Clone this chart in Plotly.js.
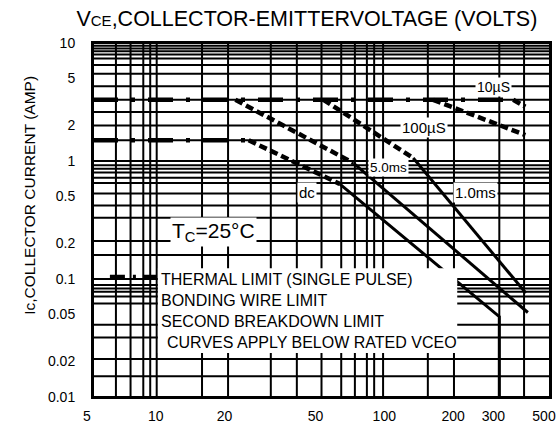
<!DOCTYPE html>
<html><head><meta charset="utf-8">
<script src="https://cdn.plot.ly/plotly-3.0.1.min.js"></script>
<style>html,body{margin:0;padding:0;background:#fff}</style>
</head><body><div id="chart" style="width:557px;height:423px"></div>
<script>
// tick labels
const xTickVals = [5, 10, 20, 50, 100, 200, 300, 500];
const xTickText = ['5', '10', '20', '50', '100', '200', '300', '500'];
const yTickVals = [10, 5, 2, 1, 0.5, 0.2, 0.1, 0.05, 0.02, 0.01];
const yTickText = ['10', '5', '2', '1', '0.5', '0.2', '0.1', '0.05', '0.02', '0.01'];

// grid lines as ruled on the original sheet
const xGrid = [5, 6.3, 7.3, 8.3, 8.9, 9.5, 15, 19.5, 30, 39, 50, 61, 70, 79, 85, 93, 146, 190, 300, 385, 500];
const yGrid = [10, 9.5, 9, 8.5, 8, 7.4, 6.5, 5.5, 4.3, 3.3, 2.6, 2, 1.5, 1, 0.92, 0.86, 0.8, 0.72, 0.65, 0.53, 0.42, 0.33, 0.21, 0.16, 0.1,
               0.089, 0.083, 0.078, 0.071, 0.062, 0.041, 0.032, 0.021, 0.015, 0.01];

// bonding wire limit (dash-dot)
const wirePulseV = [5, 345];  const wirePulseI = [3.3, 3.3];
const wireDcV = [5, 24];      const wireDcI = [1.5, 1.5];

// thermal limit (dashed)
const thermDcV = [24, 60];      const thermDcI = [1.5, 0.64];
const therm5msV = [21, 69];     const therm5msI = [3.3, 0.96];
const therm1msV = [51, 126];    const therm1msI = [3.3, 1.06];
const therm100usV = [154, 390]; const therm100usI = [3.3, 1.66];
const therm10usV = [345, 390];  const therm10usI = [3.3, 2.88];

// second breakdown limit (solid)
const sbDcV = [60, 300, 300];  const sbDcI = [0.64, 0.048, 0.01];
const sb5msV = [69, 400];      const sb5msI = [0.96, 0.052];
const sb1msV = [126, 392];     const sb1msI = [1.06, 0.076];

const FONT = 'Liberation Sans, Arial, Helvetica, sans-serif';
const DASHDOT = '25px,13px,4px,13px';
const DASHED = '8px,4px';

function tr(x, y, width, dash) {
  return {x: x, y: y, type: 'scatter', mode: 'lines', hoverinfo: 'skip', showlegend: false,
          line: {color: '#000', width: width, dash: dash || 'solid'}};
}

const traces = [
  tr(wirePulseV, wirePulseI, 4.5, DASHDOT),
  tr(wireDcV, wireDcI, 4.5, DASHDOT),
  tr(thermDcV, thermDcI, 4.5, DASHED),
  tr(therm5msV, therm5msI, 4.5, DASHED),
  tr(therm1msV, therm1msI, 4.5, DASHED),
  tr(therm100usV, therm100usI, 4.5, DASHED),
  tr(therm10usV, therm10usI, 4.5, DASHED),
  tr(sbDcV, sbDcI, 3),
  tr(sb5msV, sb5msI, 3),
  tr(sb1msV, sb1msI, 3)
];

const shapes = [];
xGrid.forEach(v => shapes.push({type: 'line', xref: 'x', yref: 'paper', x0: v, x1: v, y0: 0, y1: 1,
  layer: 'below', line: {color: '#000', width: 2}}));
yGrid.forEach(v => shapes.push({type: 'line', xref: 'paper', yref: 'y', x0: 0, x1: 1, y0: v, y1: v,
  layer: 'below', line: {color: '#000', width: 2}}));
// legend panel
shapes.push({type: 'rect', xref: 'paper', yref: 'paper', x0: 0.142, x1: 0.797, y0: 0.124, y1: 0.364,
  layer: 'above', fillcolor: '#fff', line: {width: 0}});
// legend sample of the dash-dot limit line
shapes.push({type: 'line', xref: 'paper', yref: 'paper', x0: 0.037, x1: 0.14, y0: 0.339, y1: 0.339,
  layer: 'above', line: {color: '#000', width: 4.5, dash: '15px,8px,3px,8px'}});

function ann(text, x, y, size, xanchor, bg) {
  return {text: text, xref: 'paper', yref: 'paper', x: x, y: y, xanchor: xanchor || 'center', yanchor: 'middle',
          showarrow: false, font: {family: FONT, size: size, color: '#000'},
          bgcolor: bg === false ? 'rgba(0,0,0,0)' : '#fff', borderpad: 1};
}

const annotations = [
  ann('10µS', 0.876, 0.877, 14),
  ann('100µS', 0.724, 0.760, 15),
  ann('5.0ms', 0.647, 0.648, 13.5),
  ann('1.0ms', 0.838, 0.578, 15),
  ann('dc', 0.469, 0.578, 15),
  ann('T<sub>C</sub>=25°C', 0.263, 0.466, 21),
  ann('THERMAL LIMIT (SINGLE PULSE)', 0.144, 0.331, 16, 'left', false),
  ann('BONDING WIRE LIMIT', 0.144, 0.273, 16, 'left', false),
  ann('SECOND BREAKDOWN LIMIT', 0.144, 0.213, 16, 'left', false),
  ann('CURVES APPLY BELOW RATED VCEO', 0.158, 0.153, 16, 'left', false),
  {text: 'Ic,COLLECTOR CURRENT (AMP)', xref: 'paper', yref: 'paper', x: -0.138, y: 0.571,
   xanchor: 'center', yanchor: 'middle', textangle: -90, showarrow: false,
   font: {family: FONT, size: 15.5, color: '#000'}}
];

const layout = {
  width: 557, height: 423,
  margin: {l: 93, r: 7, t: 43, b: 26, pad: 0},
  paper_bgcolor: '#fff', plot_bgcolor: '#fff',
  font: {family: FONT, color: '#000'},
  title: {text: 'V<span style="font-size:15px">CE</span>,COLLECTOR-EMITTERVOLTAGE (VOLTS)',
          xref: 'paper', x: 0.468, xanchor: 'center', yref: 'container', y: 0.957, yanchor: 'middle',
          font: {family: FONT, size: 21.5, color: '#000'}},
  xaxis: {type: 'log', range: [Math.log10(5), Math.log10(500)], tickmode: 'array',
          tickvals: xTickVals, ticktext: xTickText, showgrid: false, zeroline: false,
          ticks: '', ticklabelstandoff: 5, ticklabelshift: -6, ticklabeloverflow: 'allow',
          showline: true, mirror: true, linecolor: '#000', linewidth: 2,
          tickfont: {family: FONT, size: 14, color: '#000'}},
  yaxis: {type: 'log', range: [-2, 1], tickmode: 'array',
          tickvals: yTickVals, ticktext: yTickText, showgrid: false, zeroline: false,
          ticks: '', ticklabelstandoff: 13, ticklabeloverflow: 'allow',
          showline: true, mirror: true, linecolor: '#000', linewidth: 2,
          tickfont: {family: FONT, size: 14, color: '#000'}},
  shapes: shapes,
  annotations: annotations,
  showlegend: false
};

Plotly.newPlot('chart', traces, layout, {displayModeBar: false, staticPlot: true});
</script>
</body></html>
